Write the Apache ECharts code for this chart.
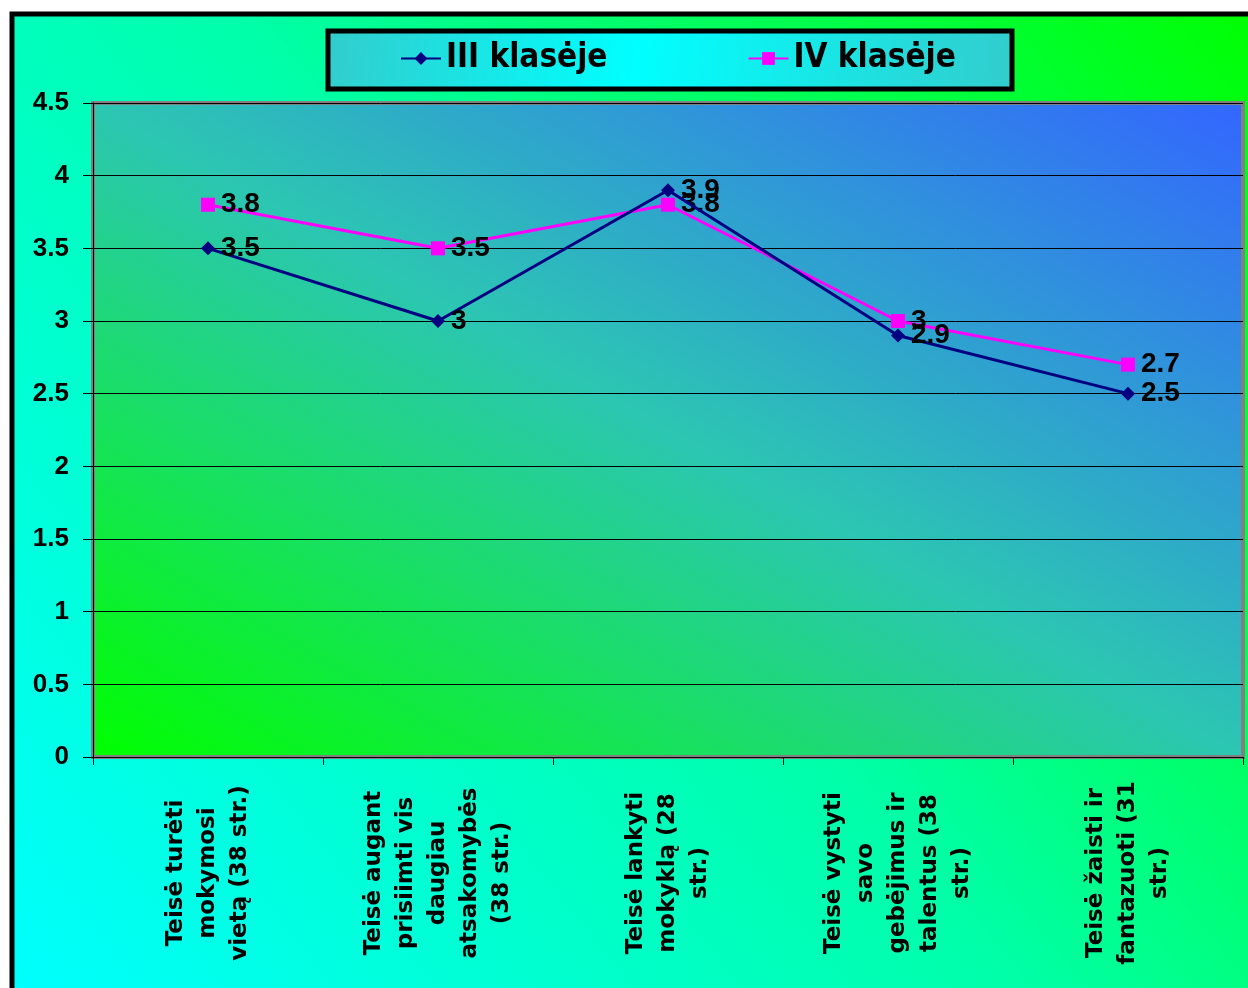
<!DOCTYPE html>
<html>
<head>
<meta charset="utf-8">
<script src="https://cdn.jsdelivr.net/npm/echarts@6/dist/echarts.min.js"></script>
<style>
  html, body { margin: 0; padding: 0; background: #ffffff; }
  #chart { width: 1248px; height: 988px; }
</style>
</head>
<body>
<div id="chart"></div>
<script>
var myChart = echarts.init(document.getElementById('chart'));

var categories = [
    'Teisė turėti\nmokymosi\nvietą (38 str.)',
    'Teisė augant\nprisiimti vis\ndaugiau\natsakomybės\n(38 str.)',
    'Teisė lankyti\nmokyklą (28\nstr.)',
    'Teisė vystyti\nsavo\ngebėjimus ir\ntalentus (38\nstr.)',
    'Teisė žaisti ir\nfantazuoti (31\nstr.)'
];
var seriesNames = ['III klasėje', 'IV klasėje'];
var klase3 = [3.5, 3, 3.9, 2.9, 2.5];
var klase4 = [3.8, 3.5, 3.8, 3, 2.7];

var font = "'Liberation Sans', Arial, sans-serif";

// plot area gradient: green bottom-left -> blue top-right, isolines along the other diagonal
var plotGradient = new echarts.graphic.LinearGradient(93, 757, 654, -231, [
    { offset: 0, color: '#00ff00' },
    { offset: 0.5, color: '#2cc6b2' },
    { offset: 1, color: '#3366ff' }
], true);

var option = {
    backgroundColor: '#ffffff',
    animation: false,
    graphic: [
        {
            type: 'rect',
            z: -10,
            shape: { x: 12, y: 14, width: 1250, height: 990 },
            style: {
                fill: new echarts.graphic.LinearGradient(0, 1, 1, 0, [
                    { offset: 0, color: '#00ffff' },
                    { offset: 0.5, color: '#00ffa8' },
                    { offset: 1, color: '#00ff00' }
                ]),
                stroke: '#000000',
                lineWidth: 5
            }
        },
        {
            type: 'rect',
            z: 1,
            shape: { x: 328, y: 31, width: 684, height: 58 },
            style: {
                fill: new echarts.graphic.LinearGradient(0, 0, 1, 1, [
                    { offset: 0, color: '#33cccc' },
                    { offset: 0.45, color: '#00ffff' },
                    { offset: 1, color: '#33cccc' }
                ]),
                stroke: '#000000',
                lineWidth: 5
            }
        }
    ],
    legend: {
        left: 400,
        top: 42,
        padding: 0,
        itemWidth: 40,
        itemHeight: 16,
        itemGap: 140,
        textStyle: {
            fontFamily: "'Liberation Sans Narrow', 'DejaVu Sans Condensed', sans-serif",
            fontWeight: 'bold',
            fontSize: 33,
            color: '#000000'
        },
        data: seriesNames
    },
    grid: {
        left: 93,
        top: 103,
        right: 5,
        bottom: 231,
        show: true,
        borderColor: '#808080',
        borderWidth: 4,
        backgroundColor: plotGradient
    },
    xAxis: {
        type: 'category',
        data: categories,
        boundaryGap: true,
        axisLine: { show: true, lineStyle: { color: '#000000', width: 1 } },
        axisTick: { show: true, length: 8, lineStyle: { color: '#000000' } },
        axisLabel: {
            interval: 0,
            rotate: 90,
            align: 'center',
            verticalAlign: 'middle',
            margin: 116,
            fontFamily: "'DejaVu Sans', sans-serif",
            fontWeight: 'bold',
            fontSize: 23,
            lineHeight: 32,
            color: '#000000'
        }
    },
    yAxis: {
        type: 'value',
        min: 0,
        max: 4.5,
        interval: 0.5,
        axisLine: { show: true, lineStyle: { color: '#000000', width: 1 } },
        axisTick: { show: true, length: 10, lineStyle: { color: '#000000' } },
        splitLine: { show: true, lineStyle: { color: '#000000', width: 1 } },
        axisLabel: {
            margin: 24,
            fontFamily: font,
            fontWeight: 'bold',
            fontSize: 26,
            color: '#000000'
        }
    },
    series: [
        {
            name: seriesNames[0],
            type: 'line',
            data: klase3,
            symbol: 'diamond',
            symbolSize: 14,
            itemStyle: { color: '#000080' },
            lineStyle: { color: '#000080', width: 3 },
            label: {
                show: true,
                position: 'right',
                distance: 6,
                fontFamily: font,
                fontWeight: 'bold',
                fontSize: 28,
                color: '#000000'
            },
            z: 3
        },
        {
            name: seriesNames[1],
            type: 'line',
            data: klase4,
            symbol: 'rect',
            symbolSize: 14,
            itemStyle: { color: '#ff00ff' },
            lineStyle: { color: '#ff00ff', width: 3 },
            label: {
                show: true,
                position: 'right',
                distance: 6,
                fontFamily: font,
                fontWeight: 'bold',
                fontSize: 28,
                color: '#000000'
            },
            z: 2
        }
    ]
};

myChart.setOption(option);
</script>
</body>
</html>
